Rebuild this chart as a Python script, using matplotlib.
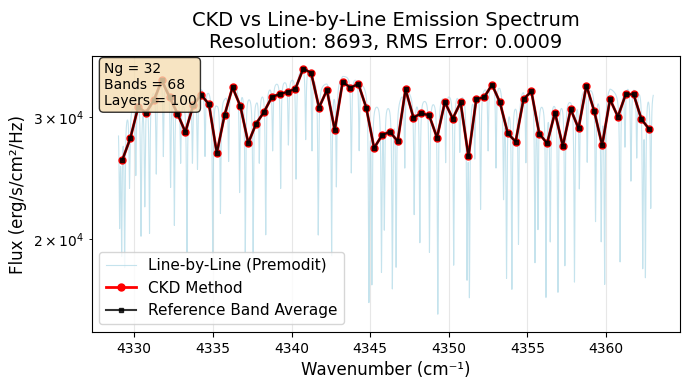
import numpy as np
import matplotlib
matplotlib.use("Agg")
import matplotlib.pyplot as plt

# ---------------- data ----------------
band_centers = np.arange(4329.25, 4363.0, 0.5)  # 68 bands, 0.5 cm-1 wide

ckd_flux = [26046, 27966, 31050, 30474, 31756, 33945, 32072, 30373, 28561, 31228,
            32364, 31332, 26625, 30272, 33166, 31124, 27532, 29375, 30536, 32106,
            32430, 32647, 33018, 35313, 34785, 30991, 32862, 28753, 33756, 33132,
            33532, 30991, 27074, 28247, 28599, 27688, 32943, 29974, 30404, 30201,
            28032, 31574, 29870, 31543, 26330, 31894, 32072, 33464, 31543, 28437,
            27657, 31861, 32723, 28409, 27503, 30474, 27257, 30813, 28917, 33353,
            30609, 27321, 31861, 30070, 32397, 32397, 29800, 28822]
ref_flux = list(ckd_flux)

# upper envelope (continuum tops) of the line-by-line spectrum per band
lbl_envelope = [30900, 31230, 32290, 32290, 33380, 34520, 33950, 32290, 31760, 32830,
                33380, 33050, 31760, 32290, 33720, 33380, 32620, 32290, 33050, 33720,
                34170, 34170, 34640, 35700, 35580, 33380, 33950, 33380, 34640, 34520,
                34410, 33380, 31760, 31760, 31760, 31760, 33610, 32180, 32180, 32180,
                31970, 32830, 32620, 33050, 32290, 33050, 33380, 34170, 33720, 31760,
                31970, 33380, 33500, 31970, 31760, 32070, 31970, 32180, 32290, 33720,
                33050, 32290, 33380, 32620, 33720, 33720, 33380, 33050]

# absorption line centres and line-core flux of the line-by-line spectrum
line_pos = [4329.07, 4329.20, 4329.39, 4330.43, 4330.67, 4330.97, 4332.31, 4332.55,
            4333.35, 4334.02, 4334.99, 4335.48, 4336.70, 4337.06, 4337.56, 4338.36,
            4339.31, 4341.70, 4342.55, 4344.92, 4345.11, 4345.72, 4345.90, 4346.41,
            4346.65, 4347.80, 4348.16, 4348.77, 4349.30, 4350.31, 4351.16, 4351.31,
            4352.02, 4353.48, 4353.67, 4354.01, 4354.43, 4355.48, 4355.67, 4356.18,
            4356.45, 4356.94, 4357.38, 4357.99, 4358.30, 4359.33, 4359.69, 4359.91,
            4360.89, 4361.58, 4362.33, 4362.50, 4362.84,
            4329.70, 4330.10, 4331.40, 4331.85, 4332.95, 4333.70, 4334.50, 4336.00,
            4337.95, 4338.80, 4339.80, 4340.29, 4340.90, 4341.30, 4342.85, 4343.80,
            4344.30, 4347.20, 4349.80, 4350.70, 4351.65, 4352.50, 4353.00, 4354.90,
            4358.80, 4361.20, 4361.95]
line_min = [21500, 19700, 18600, 20450, 22680, 20560, 24060, 21140,
            19240, 25400, 19130, 21860, 23500, 19240, 19130, 20380,
            23760, 20340, 19030, 16550, 17590, 18230, 21140, 17200,
            18500, 21860, 19890, 19240, 15620, 18430, 18090, 17010,
            22230, 23370, 17890, 17110, 19820, 18800, 21140, 16640,
            20110, 16880, 18430, 17450, 23900, 21380, 20230, 17440,
            18600, 24450, 18640, 18090, 22360,
            24000, 25000, 25000, 26500, 26000, 26000, 26500, 26000,
            26000, 27000, 27500, 24500, 28000, 27000, 24000, 25000,
            27000, 25500, 26000, 27000, 26500, 27000, 25500, 26000,
            26000, 27500, 26500]

n_points = 8693
ng, n_bands, n_layers = 32, 68, 100
rms_error = 0.0009

# ---------------- build line-by-line curve ----------------
nu = np.linspace(4329.0, 4363.0, n_points)
cont = np.interp(nu, band_centers, lbl_envelope)
lp = np.array(line_pos)
lm = np.array(line_min, dtype=float)
cont_at_line = np.interp(lp, band_centers, lbl_envelope)
tau = np.clip(np.log(cont_at_line / lm), 0.03, None)
gamma = 0.035
prof = gamma**2 / ((nu[:, None] - lp[None, :])**2 + gamma**2)
lbl = cont * np.exp(-(prof * tau[None, :]).sum(axis=1))

# ---------------- plot ----------------
fig, ax = plt.subplots(figsize=(6.9, 3.9), dpi=100)
ax.plot(nu, lbl, color='lightblue', alpha=0.7, linewidth=0.8,
        label='Line-by-Line (Premodit)')
ax.plot(band_centers, ckd_flux, 'o-', color='red', linewidth=2, markersize=5,
        label='CKD Method')
ax.plot(band_centers, ref_flux, 's-', color='black', alpha=0.8, linewidth=1.5,
        markersize=3.5, label='Reference Band Average')
ax.set_yscale('log')
ax.set_ylim(14650, 36800)
ax.set_xlabel('Wavenumber (cm⁻¹)', fontsize=12)
ax.set_ylabel('Flux (erg/s/cm²/Hz)', fontsize=12)
ax.set_title(f'CKD vs Line-by-Line Emission Spectrum\nResolution: {n_points}, RMS Error: {rms_error:.4f}',
             fontsize=14)
ax.grid(True, alpha=0.3)
ax.legend(loc='lower left', fontsize=11)
ax.text(0.02, 0.98, f'Ng = {ng}\nBands = {n_bands}\nLayers = {n_layers}',
        transform=ax.transAxes, fontsize=10, va='top',
        bbox=dict(boxstyle='round', facecolor='wheat', alpha=0.8))
fig.subplots_adjust(left=0.133, right=0.9855, top=0.856, bottom=0.149)
fig.savefig('out.png', dpi=100)
